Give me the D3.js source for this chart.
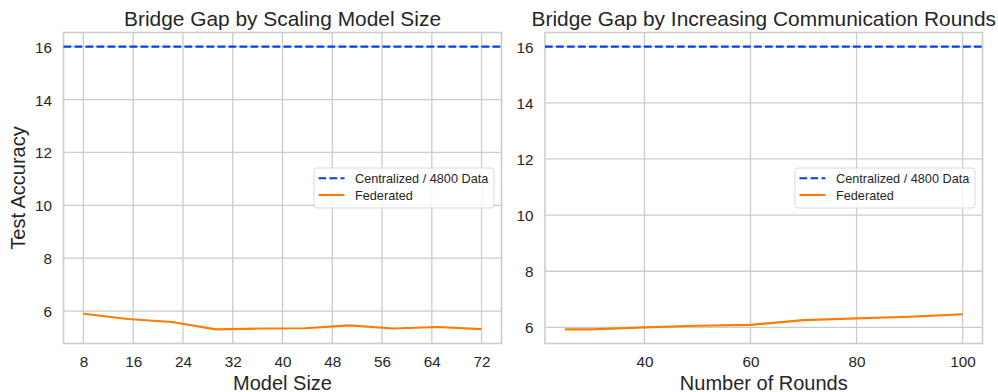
<!DOCTYPE html>
<html>
<head>
<meta charset="utf-8">
<script src="https://cdn.jsdelivr.net/npm/d3@7"></script>
<style>
  html, body { margin: 0; padding: 0; background: #ffffff; }
  svg { display: block; font-family: "Liberation Sans", Arial, sans-serif; }
</style>
</head>
<body>
<svg id="chart" width="998" height="392"></svg>
<script>
// Panel 1: accuracy vs. model size
const modelSizes = [8, 15.1, 22.2, 29.3, 36.4, 43.6, 50.7, 57.8, 64.9, 72];
const sizeAccuracy = [5.90, 5.70, 5.59, 5.31, 5.34, 5.35, 5.46, 5.34, 5.40, 5.32];
const sizeTicks = [8, 16, 24, 32, 40, 48, 56, 64, 72];

// Panel 2: accuracy vs. communication rounds
const rounds = [25, 30, 40, 50, 60, 70, 80, 90, 100];
const roundAccuracy = [5.93, 5.93, 6.00, 6.06, 6.09, 6.26, 6.32, 6.38, 6.47];
const roundTicks = [40, 60, 80, 100];

// Shared reference and y ticks
const centralizedAccuracy = 16.0;
const accuracyTicks = [6, 8, 10, 12, 14, 16];
const legendLabels = ["Centralized / 4800 Data", "Federated"];

const BLUE = "#023eff", ORANGE = "#ff7c00", GRID = "#cccccc", TEXT = "#262626";
const svg = d3.select("#chart");

function padded(ext) {
  const r = ext[1] - ext[0];
  return [ext[0] - 0.05 * r, ext[1] + 0.05 * r];
}

function panel(opts) {
  const { left, right, top, bottom, xs, ys, xTicks, title, xLabel, yLabel } = opts;
  const x = d3.scaleLinear().domain(padded(d3.extent(xs))).range([left, right]);
  const y = d3.scaleLinear()
    .domain(padded(d3.extent(ys.concat([centralizedAccuracy]))))
    .range([bottom, top]);

  const g = svg.append("g");

  // grid
  g.append("g").selectAll("line").data(xTicks).join("line")
    .attr("x1", d => x(d)).attr("x2", d => x(d))
    .attr("y1", top).attr("y2", bottom)
    .attr("stroke", GRID).attr("stroke-width", 1.3);
  g.append("g").selectAll("line").data(accuracyTicks).join("line")
    .attr("x1", left).attr("x2", right)
    .attr("y1", d => y(d)).attr("y2", d => y(d))
    .attr("stroke", GRID).attr("stroke-width", 1.3);

  // frame
  g.append("rect").attr("x", left).attr("y", top)
    .attr("width", right - left).attr("height", bottom - top)
    .attr("fill", "none").attr("stroke", GRID).attr("stroke-width", 1.6);

  // axes (labels only, no tick marks)
  const xAxis = d3.axisBottom(x).tickValues(xTicks).tickSize(0).tickPadding(0);
  const xa = g.append("g").attr("transform", `translate(0,${bottom})`).call(xAxis);
  xa.select(".domain").remove();
  xa.selectAll("text").attr("y", 23.5).attr("dy", null)
    .attr("font-size", 15.3).attr("fill", TEXT).attr("font-family", null);

  const yAxis = d3.axisLeft(y).tickValues(accuracyTicks).tickSize(0).tickPadding(0);
  const ya = g.append("g").attr("transform", `translate(${left},0)`).call(yAxis);
  ya.select(".domain").remove();
  ya.selectAll("text").attr("x", -11.5).attr("dy", "0.36em")
    .attr("font-size", 15.3).attr("fill", TEXT).attr("font-family", null);

  // centralized reference line
  g.append("line")
    .attr("x1", left).attr("x2", right)
    .attr("y1", y(centralizedAccuracy)).attr("y2", y(centralizedAccuracy))
    .attr("stroke", BLUE).attr("stroke-width", 2.1)
    .attr("stroke-dasharray", "7.7,3.3");

  // federated line
  const line = d3.line().x((d, i) => x(xs[i])).y(d => y(d));
  g.append("path").datum(ys)
    .attr("d", line)
    .attr("fill", "none").attr("stroke", ORANGE).attr("stroke-width", 2.1)
    .attr("stroke-linejoin", "round").attr("stroke-linecap", "butt");

  // title
  g.append("text").attr("x", (left + right) / 2).attr("y", top - 7)
    .attr("text-anchor", "middle").attr("font-size", 20.9).attr("fill", TEXT)
    .text(title);

  // x label
  g.append("text").attr("x", (left + right) / 2).attr("y", 389.5)
    .attr("text-anchor", "middle").attr("font-size", 20).attr("fill", TEXT)
    .text(xLabel);

  // y label
  if (yLabel) {
    g.append("text")
      .attr("transform", `translate(25,${(top + bottom) / 2}) rotate(-90)`)
      .attr("text-anchor", "middle").attr("font-size", 20).attr("fill", TEXT)
      .text(yLabel);
  }

  // legend, centered on the right edge
  const lw = 180, lh = 40;
  const lx = right - 7.5 - lw, ly = (top + bottom) / 2 - lh / 2;
  const lg = g.append("g").attr("transform", `translate(${lx},${ly})`);
  lg.append("rect").attr("width", lw).attr("height", lh).attr("rx", 3)
    .attr("fill", "#ffffff").attr("fill-opacity", 0.8)
    .attr("stroke", "#d9d9d9").attr("stroke-width", 1);
  const rows = [
    { label: legendLabels[0], color: BLUE, dash: "7.7,3.3" },
    { label: legendLabels[1], color: ORANGE, dash: null }
  ];
  rows.forEach((r, i) => {
    const cy = 10.3 + i * 16.7;
    lg.append("line").attr("x1", 4.5).attr("x2", 30.5).attr("y1", cy).attr("y2", cy)
      .attr("stroke", r.color).attr("stroke-width", 2.1)
      .attr("stroke-dasharray", r.dash);
    lg.append("text").attr("x", 41).attr("y", cy).attr("dy", "0.36em")
      .attr("font-size", 12.7).attr("fill", TEXT).text(r.label);
  });
}

panel({
  left: 63.5, right: 501.5, top: 32.5, bottom: 343.5,
  xs: modelSizes, ys: sizeAccuracy, xTicks: sizeTicks,
  title: "Bridge Gap by Scaling Model Size", xLabel: "Model Size", yLabel: "Test Accuracy"
});

panel({
  left: 545, right: 982.5, top: 32.5, bottom: 343.5,
  xs: rounds, ys: roundAccuracy, xTicks: roundTicks,
  title: "Bridge Gap by Increasing Communication Rounds", xLabel: "Number of Rounds", yLabel: null
});
</script>
</body>
</html>
